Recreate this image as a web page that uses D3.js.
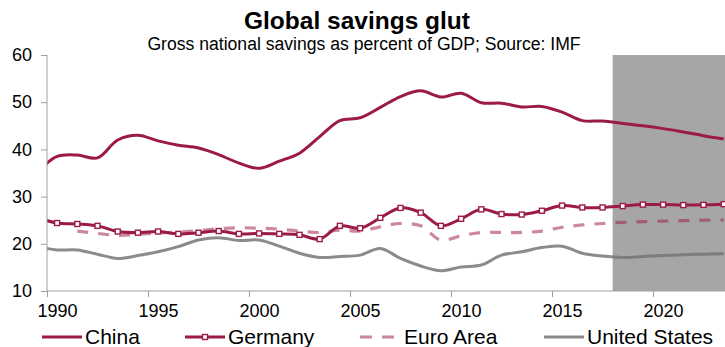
<!DOCTYPE html>
<html><head><meta charset="utf-8">
<script src="https://cdn.jsdelivr.net/npm/d3@7"></script>
<style>
html,body{margin:0;padding:0;background:#fff;}
svg{display:block;font-family:"Liberation Sans",Arial,sans-serif;}
</style></head>
<body>
<svg id="chart" width="725" height="347"></svg>
<script>
const years = d3.range(1989, 2024);
const china   = [35.0,38.5,38.8,38.2,42.0,43.0,41.8,40.9,40.3,38.9,37.1,36.0,37.5,39.2,42.7,46.1,46.7,48.9,51.2,52.4,51.1,51.9,49.9,49.8,49.0,49.1,47.9,46.1,46.0,45.5,45.0,44.4,43.7,42.9,42.2];
const germany = [25.6,24.4,24.2,23.8,22.6,22.35,22.6,22.1,22.35,22.7,22.1,22.2,22.1,21.9,21.0,23.8,23.3,25.5,27.6,26.6,23.8,25.3,27.3,26.3,26.2,27.0,28.1,27.7,27.7,28.0,28.3,28.3,28.2,28.25,28.4];
const euroArea = [null,null,22.7,22.2,21.8,22.0,22.3,22.5,22.8,23.2,23.4,23.3,23.1,22.7,22.4,22.9,22.7,23.6,24.3,23.8,20.8,21.7,22.4,22.4,22.4,22.7,23.5,24.0,24.3,24.55,24.7,24.8,24.9,25.0,25.05];
const unitedStates = [19.4,18.7,18.7,17.8,16.9,17.5,18.3,19.4,20.8,21.3,20.7,20.8,19.5,18.0,17.1,17.3,17.6,19.0,16.9,15.3,14.3,15.1,15.5,17.6,18.3,19.2,19.5,18.0,17.4,17.1,17.3,17.5,17.7,17.8,17.9];
const xTicks = [1990,1995,2000,2005,2010,2015,2020];
const yTicks = [10,20,30,40,50,60];
const forecastStart = 2018;
const seriesNames = ["China","Germany","Euro Area","United States"];

(function(){
const svg = d3.select("#chart");
const left = 47, plotTop = 55, bottom = 291;
const x = d3.scaleLinear().domain([1990, 2024]).range([left, left + 34*20.2]);
const y = d3.scaleLinear().domain([10, 60]).range([bottom, plotTop]);
const crimson = "#9b1b46";

svg.append("defs").append("clipPath").attr("id","clip")
  .append("rect").attr("x", left).attr("y", 0).attr("width", 725-left).attr("height", bottom);

svg.append("rect")
  .attr("x", x(forecastStart)).attr("y", y(60))
  .attr("width", x(2024)-x(forecastStart)).attr("height", y(10)-y(60))
  .attr("fill", "#a6a6a6");

const g = svg.append("g").attr("clip-path","url(#clip)");
const line = d3.line()
  .defined(d => d[1] != null)
  .x(d => x(d[0] + 0.5)).y(d => y(d[1]))
  .curve(d3.curveCatmullRom.alpha(0.5));
const zip = arr => years.map((yr,i) => [yr, arr[i]]);

g.append("path").datum(zip(unitedStates)).attr("d", line)
  .attr("fill","none").attr("stroke","#747474").attr("stroke-opacity",0.83).attr("stroke-width",3);
g.append("path").datum(zip(euroArea).filter(d=>d[1]!=null)).attr("d", line)
  .attr("fill","none").attr("stroke",crimson).attr("stroke-opacity",0.52).attr("stroke-width",3.2)
  .attr("stroke-dasharray","11,10");
g.append("path").datum(zip(china)).attr("d", line)
  .attr("fill","none").attr("stroke",crimson).attr("stroke-width",3);
g.append("path").datum(zip(germany)).attr("d", line)
  .attr("fill","none").attr("stroke",crimson).attr("stroke-width",3);
g.selectAll("rect.mk").data(zip(germany).filter(d => d[0] >= 1990)).enter().append("rect")
  .attr("class","mk")
  .attr("x", d => x(d[0]+0.5)-2.5).attr("y", d => y(d[1])-2.5)
  .attr("width",5).attr("height",5)
  .attr("fill","#fff").attr("stroke",crimson).attr("stroke-width",1.4);

const axisColor = "#a0a0a0";
const yAxis = svg.append("g").attr("transform",`translate(${left},0)`)
  .call(d3.axisLeft(y).tickValues(yTicks).tickSize(6).tickPadding(9).tickFormat(d3.format("d")));
yAxis.select(".domain").attr("stroke",axisColor).attr("d",`M0,${plotTop}V${bottom}`);
yAxis.selectAll(".tick line").attr("stroke",axisColor);
yAxis.selectAll(".tick text").attr("font-size",18).attr("fill","#000")
  .attr("font-family","'Liberation Sans',Arial,sans-serif");

const xAxis = svg.append("g").attr("transform",`translate(0,${bottom})`)
  .call(d3.axisBottom(x).tickValues(xTicks).tickSize(6).tickPadding(7).tickFormat(d3.format("d")));
xAxis.select(".domain").attr("stroke",axisColor).attr("d",`M${left},0H725`);
xAxis.selectAll(".tick line").attr("stroke",axisColor);
const halfYear = x(1990.5) - x(1990);
xAxis.selectAll(".tick text").attr("font-size",18).attr("fill","#000")
  .attr("font-family","'Liberation Sans',Arial,sans-serif")
  .attr("dx", halfYear);

svg.append("text").attr("x",357).attr("y",29).attr("text-anchor","middle")
  .attr("font-size",24.5).attr("font-weight","bold").text("Global savings glut");
svg.append("text").attr("x",364).attr("y",50).attr("text-anchor","middle")
  .attr("font-size",17.6).text("Gross national savings as percent of GDP; Source: IMF");

const ly = 337;
const legendX = [42, 185, 360, 544];
const lg = svg.append("g");
seriesNames.forEach((name, i) => {
  const x0 = legendX[i], w = (i===2) ? 35 : 40;
  const ln = lg.append("line").attr("x1",x0).attr("x2",x0+w).attr("y1",ly).attr("y2",ly)
    .attr("stroke-width",3);
  if (i===0 || i===1) ln.attr("stroke",crimson);
  if (i===2) ln.attr("stroke",crimson).attr("stroke-opacity",0.52).attr("stroke-dasharray","12,10");
  if (i===3) ln.attr("stroke","#747474").attr("stroke-opacity",0.83);
  if (i===1) lg.append("rect").attr("x",x0+w/2-2.5).attr("y",ly-2.5).attr("width",5).attr("height",5)
    .attr("fill","#fff").attr("stroke",crimson).attr("stroke-width",1.4);
  lg.append("text").attr("x", x0 + w + (i===2 ? 9 : 3)).attr("y", ly+7)
    .attr("font-size",21).text(name);
});
})();
</script>
</body></html>
